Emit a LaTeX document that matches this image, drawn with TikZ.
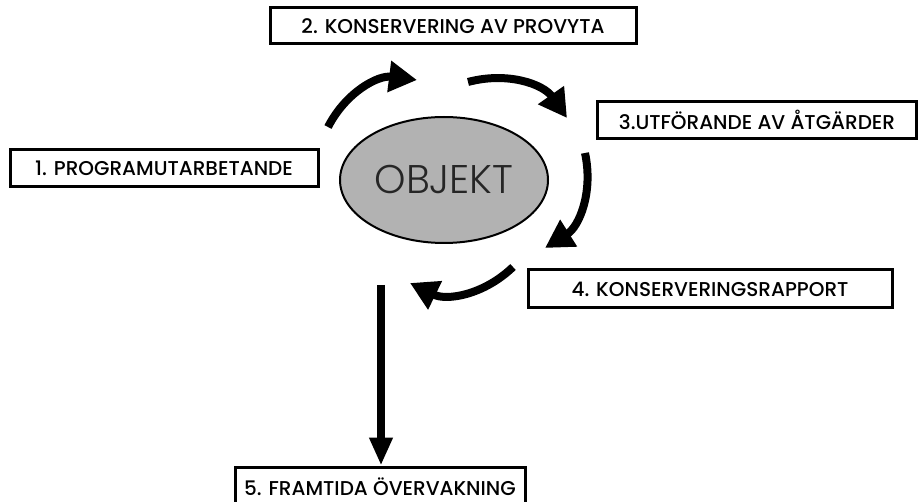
\documentclass[tikz,border=0pt]{standalone}
\usepackage{fontspec}
\setmainfont{Poppins}
\newfontfamily\boxfont{Poppins Medium}
\newfontfamily\objfont{Poppins Light}
\usetikzlibrary{arrows.meta, shapes.geometric}

\begin{document}
\begin{tikzpicture}[
    x=1pt, y=-1pt,
    cycle/.style ={draw, line width=8pt, -{Triangle[length=28pt,width=30pt]}, bend left=35},
    down/.style ={draw, line width=8pt, -{Triangle[length=28pt,width=22pt]}},
    stepbox/.style = {rectangle, draw=black, line width=3pt, inner sep=0pt, font=\boxfont\fontsize{20}{22}\selectfont, text centered},
    object/.style = {ellipse, draw=black, line width=2pt, fill=black!30, minimum width=208pt, minimum height=126pt, font=\objfont\fontsize{40}{42}\selectfont, text=black!85}
  ]
  \useasboundingbox (0,0) rectangle (921,502);
  \node (obj) [object] at (444,180) {OBJEKT};
  \node (prog) [stepbox, minimum width=308pt, minimum height=37pt] at (164,168) {1. PROGRAMUTARBETANDE};
  \node (kons) [stepbox, minimum width=366pt, minimum height=36pt] at (453,26) {2. KONSERVERING AV PROVYTA};
  \node (utf) [stepbox, minimum width=319pt, minimum height=37pt] at (757,120) {3.UTFÖRANDE AV ÅTGÄRDER};
  \node (rapp) [stepbox, minimum width=364pt, minimum height=38pt] at (710,289) {4. KONSERVERINGSRAPPORT};
  \node (overv) [stepbox, minimum width=290pt, minimum height=40pt] at (380,487) {5. FRAMTIDA ÖVERVAKNING};
  % ends of the arrows round the object
  \coordinate (a1) at (328,127);
  \coordinate (b1) at (417,80);
  \coordinate (a2) at (468,82);
  \coordinate (b2) at (567,118);
  \coordinate (a3) at (585,153);
  \coordinate (b3) at (545,248);
  \coordinate (a4) at (513,267);
  \coordinate (b4) at (410,283);
  \coordinate (a5) at (381,285);
  \begin{scope}
    \path [cycle] (a1) to (b1);
    \path [cycle] (a2) to (b2);
    \path [cycle] (a3) to (b3);
    \path [cycle] (a4) to (b4);
    \path [down] (a5) -- (a5 |- overv.north);
  \end{scope}
\end{tikzpicture}
\end{document}
